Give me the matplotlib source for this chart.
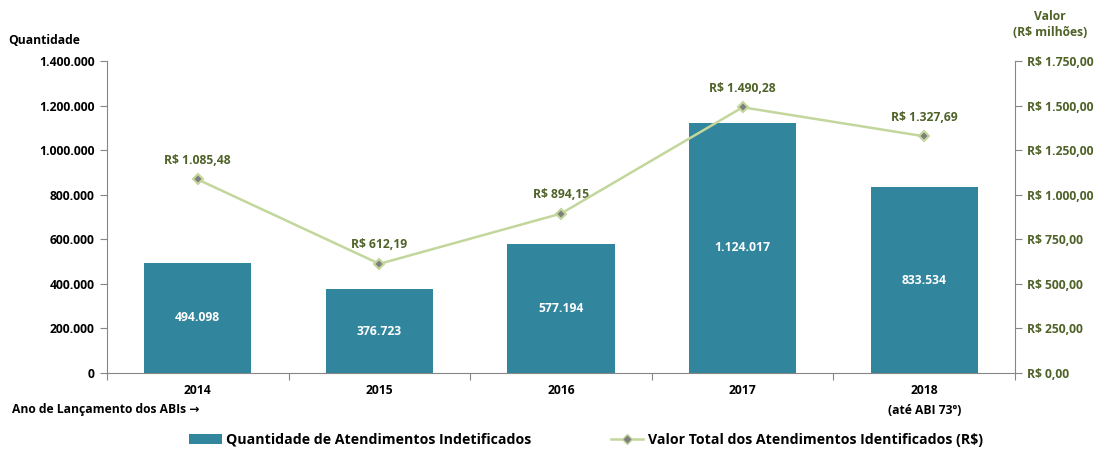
import matplotlib
matplotlib.use("Agg")
import matplotlib.pyplot as plt
from matplotlib.ticker import FuncFormatter, FixedLocator
from matplotlib.lines import Line2D
from matplotlib.patches import Patch

plt.rcParams['font.family'] = ['Open Sans', 'DejaVu Sans']

years = ['2014', '2015', '2016', '2017', '2018']
quantidade = [494098, 376723, 577194, 1124017, 833534]
valor = [1085.48, 612.19, 894.15, 1490.28, 1327.69]

bar_color = '#31859c'
line_color = '#c3d69b'
marker_face = '#7f7f7f'
green_text = '#4f6228'

def br_int(v):
    return f"{int(round(v)):,}".replace(',', '.')

def br_money(v):
    s = f"{v:,.2f}"
    s = s.replace(',', 'X').replace('.', ',').replace('X', '.')
    return "R$ " + s

fig = plt.figure(figsize=(10.96, 4.5), dpi=100)
ax = fig.add_axes([107/1096, 77/450, (1015-107)/1096, (373-61)/450])
x = list(range(len(years)))
ax.bar(x, quantidade, width=0.59, color=bar_color, zorder=2)
ax.set_xlim(-0.5, len(years) - 0.5)
ax.set_ylim(0, 1400000)
ax.yaxis.set_major_locator(FixedLocator([i * 200000 for i in range(8)]))
ax.yaxis.set_major_formatter(FuncFormatter(lambda v, p: br_int(v)))
for s in ['top', 'right']:
    ax.spines[s].set_visible(False)
for s in ['left', 'bottom']:
    ax.spines[s].set_color('#868686')
ax.tick_params(axis='y', length=5, color='#868686', labelsize=8.7, pad=4)
for t in ax.get_yticklabels():
    t.set_fontweight('bold')
ax.set_xticks([i - 0.5 for i in range(len(years) + 1)])
ax.set_xticklabels([])
ax.tick_params(axis='x', length=5, color='#868686')
for i, y in enumerate(years):
    ax.text(i, -0.055, y, transform=ax.get_xaxis_transform(), ha='center', va='center',
            fontsize=8.7, fontweight='bold')
ax.text(len(years) - 1, -0.12, '(até ABI 73º)', transform=ax.get_xaxis_transform(),
        ha='center', va='center', fontsize=8.7, fontweight='bold')
for i, q in enumerate(quantidade):
    ax.text(i, q / 2, br_int(q), ha='center', va='center', color='white',
            fontsize=8.7, fontweight='bold', zorder=3)

ax2 = ax.twinx()
ax2.plot(x, valor, color=line_color, lw=1.8, marker='D', markersize=5,
         markerfacecolor=marker_face, markeredgecolor=line_color, markeredgewidth=1.5, zorder=4)
ax2.set_ylim(0, 1750)
ax2.yaxis.set_major_locator(FixedLocator([i * 250 for i in range(8)]))
ax2.yaxis.set_major_formatter(FuncFormatter(lambda v, p: br_money(v)))
for s in ['top', 'left', 'bottom']:
    ax2.spines[s].set_visible(False)
ax2.spines['right'].set_color('#868686')
ax2.tick_params(axis='y', length=5, color='#868686', labelsize=8.7, labelcolor=green_text, pad=4)
for t in ax2.get_yticklabels():
    t.set_fontweight('bold')
for i, v in enumerate(valor):
    ax2.annotate(br_money(v), (i, v), xytext=(0, 9), textcoords='offset points',
                 ha='center', va='bottom', color=green_text, fontsize=8.7, fontweight='bold')

fig.text(8/1096, 1 - 41/450, 'Quantidade', ha='left', va='center', fontsize=8.7, fontweight='bold')
fig.text(1050/1096, 1 - 25/450, 'Valor\n(R$ milhões)', ha='center', va='center',
         fontsize=8.7, fontweight='bold', color=green_text, linespacing=1.3)
fig.text(12/1096, 1 - 410/450, 'Ano de Lançamento dos ABIs \u2192', ha='left', va='center',
         fontsize=8.7, fontweight='bold', family=['Open Sans', 'DejaVu Sans'])

handles = [Patch(facecolor=bar_color, edgecolor='none'),
           Line2D([0], [0], color=line_color, lw=1.8, marker='D', markersize=5,
                  markerfacecolor=marker_face, markeredgecolor=line_color)]
lab = ['Quantidade de Atendimentos Indetificados', 'Valor Total dos Atendimentos Identificados (R$)']
leg = fig.legend(handles, lab, loc='center', bbox_to_anchor=(586/1096, 1 - 440/450), ncol=2,
                 frameon=False, prop={'size': 10.2, 'weight': 'bold'}, columnspacing=5.6,
                 handlelength=2.3, handletextpad=0.3, handleheight=0.8)

fig.savefig('out.png', dpi=100)
